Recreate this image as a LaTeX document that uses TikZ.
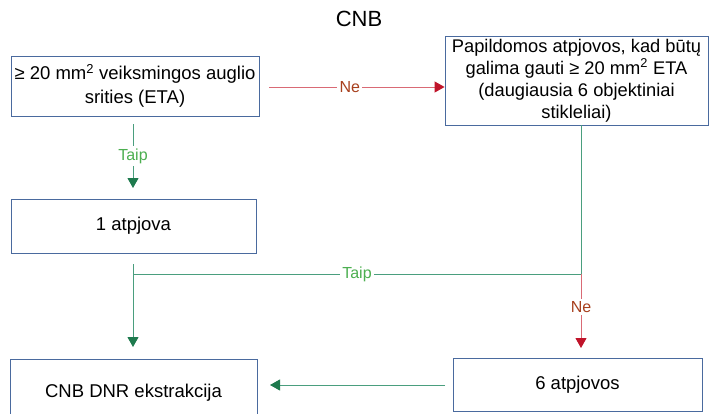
\documentclass[tikz,border=0pt]{standalone}
\usepackage{fontspec}
\setmainfont{Liberation Sans}
\usetikzlibrary{arrows.meta,calc}
\definecolor{boxblue}{HTML}{4A6A9E}
\definecolor{lgreen}{HTML}{4A9E7E}
\definecolor{dgreen}{HTML}{1E7A4E}
\definecolor{tgreen}{HTML}{4CAF50}
\definecolor{lred}{HTML}{D96A75}
\definecolor{dred}{HTML}{C0142A}
\definecolor{tred}{HTML}{A8401E}
\begin{document}
\begin{tikzpicture}[x=1pt,y=-1pt,
  box/.style={draw=boxblue,line width=0.9pt,fill=white,inner sep=1pt,align=center,font=\fontsize{18.5}{22}\selectfont},
  lbl/.style={fill=white,inner sep=2.5pt,font=\fontsize{16}{18}\selectfont},
  garr/.style={draw=lgreen,line width=1pt,-{Triangle[width=11pt,length=10pt,color=dgreen]}},
  rarr/.style={draw=lred,line width=1pt,-{Triangle[width=11pt,length=10pt,color=dred]}},
  gline/.style={draw=lgreen,line width=1pt},
  rline/.style={draw=lred,line width=1pt}]
\useasboundingbox (0,0) rectangle (710,413);
\fill[white] (0,0) rectangle (710,413);
\node[font=\fontsize{22}{24}\selectfont] (title) at (359,19) {CNB};
\node[box,minimum width=248pt,minimum height=60pt,font=\fontsize{18.5}{23.5}\selectfont] (eta) at (135,86) {≥ 20 mm\textsuperscript{2} veiksmingos auglio\\srities (ETA)};
\node[box,minimum width=263pt,minimum height=89pt,font=\fontsize{18.3}{22}\selectfont] (papild) at (576.5,80.5) {Papildomos atpjovos, kad būtų\\galima gauti ≥ 20 mm\textsuperscript{2} ETA\\(daugiausia 6 objektiniai\\stikleliai)};
\node[box,minimum width=245pt,minimum height=54pt] (one) at (133.5,226) {1 atpjova};
\node[box,minimum width=247pt,minimum height=67pt] (dnr) at (133.5,392.5) {CNB DNR ekstrakcija};
\node[box,minimum width=249pt,minimum height=53pt] (six) at (577.5,384.5) {6 atpjovos};
% Ne (horizontal)
\coordinate (neS) at (269,87);
\draw[rarr] (neS) -- (neS -| papild.west) node[lbl,pos=0.46,text=tred] {Ne};
% Taip (vertical top)
\coordinate (taS) at (133,124);
\coordinate (taE) at (133,188);
\draw[garr] (taS) -- (taE) node[lbl,midway,text=tgreen] {Taip};
% from 1 atpjova down
\coordinate (oneS) at (133,264);
\coordinate (join) at (133,274);
\coordinate (corner) at (581,274);
\coordinate (dnrE) at (133,347);
\draw[garr] (oneS) -- (dnrE);
\draw[gline] (join) -- (corner) node[lbl,pos=0.5,text=tgreen] {Taip};
\draw[gline] (papild.south -| corner) -- (corner);
\coordinate (sixE) at (581,348);
\draw[rarr] (corner) -- (sixE) node[lbl,pos=0.45,text=tred] {Ne};
% six to dnr
\coordinate (sixS) at (445,385);
\coordinate (dnrT) at (270,385);
\draw[garr] (sixS) -- (dnrT);
\end{tikzpicture}
\end{document}
